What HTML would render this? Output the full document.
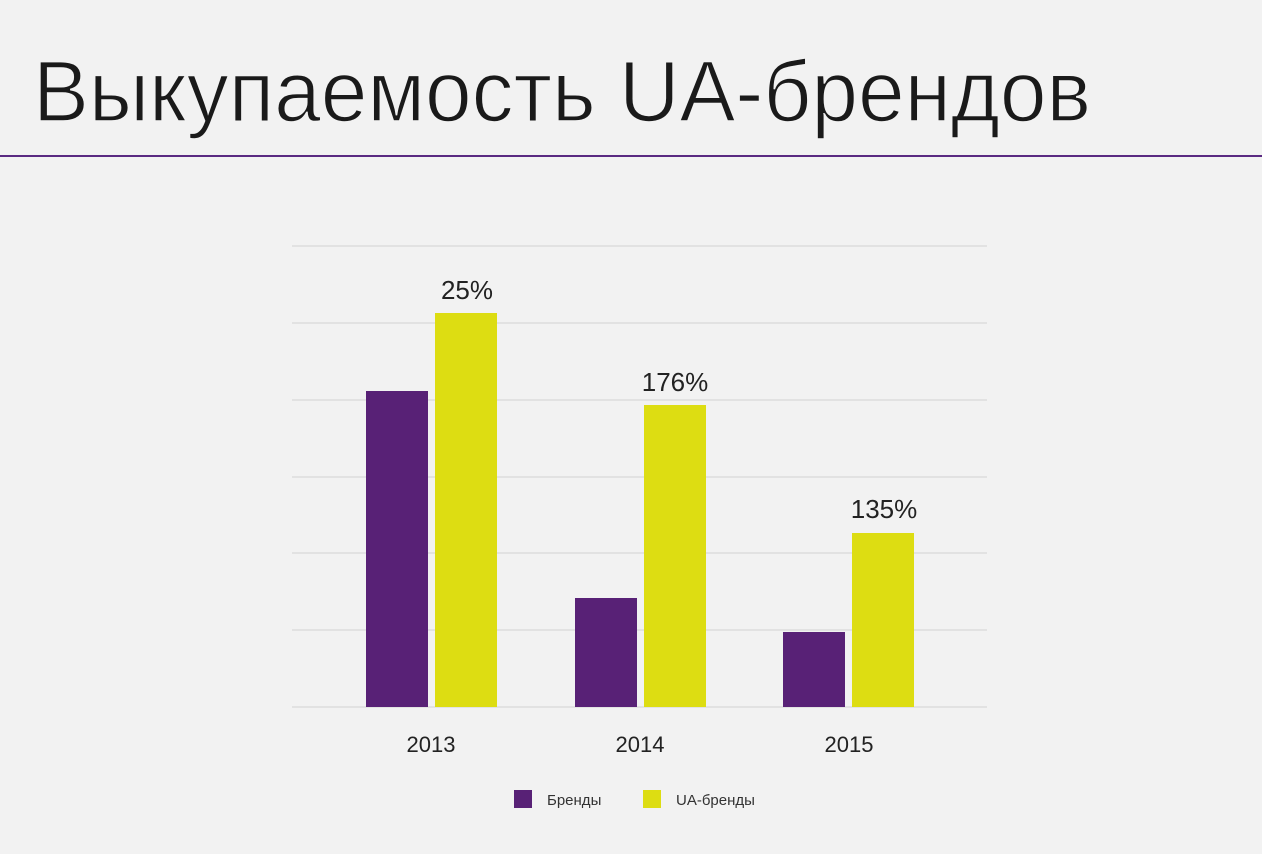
<!DOCTYPE html>
<html><head><meta charset="utf-8"><style>
html,body{margin:0;padding:0;background:#f2f2f2;}
svg{display:block}
</style></head><body>
<svg width="1262" height="854" xmlns="http://www.w3.org/2000/svg" font-family="Liberation Sans, DejaVu Sans, sans-serif">
<rect width="1262" height="854" fill="#f2f2f2"/>
<text x="33" y="121" font-size="86" fill="#1a1a1a" stroke="#f2f2f2" stroke-width="1.6" textLength="1058" lengthAdjust="spacingAndGlyphs">Выкупаемость UA-брендов</text>
<rect x="0" y="155" width="1262" height="2" fill="#5a2a82"/>
<g stroke="#e2e2e2" stroke-width="2">
<line x1="292" y1="246" x2="987" y2="246"/>
<line x1="292" y1="323" x2="987" y2="323"/>
<line x1="292" y1="400" x2="987" y2="400"/>
<line x1="292" y1="477" x2="987" y2="477"/>
<line x1="292" y1="553" x2="987" y2="553"/>
<line x1="292" y1="630" x2="987" y2="630"/>
<line x1="292" y1="707" x2="987" y2="707"/>
</g>
<g fill="#582176">
<rect x="366" y="391" width="62" height="316"/>
<rect x="575" y="598" width="62" height="109"/>
<rect x="783" y="632" width="62" height="75"/>
</g>
<g fill="#dddd12">
<rect x="435" y="313" width="62" height="394"/>
<rect x="644" y="405" width="62" height="302"/>
<rect x="852" y="533" width="62" height="174"/>
</g>
<g font-size="26" fill="#222" text-anchor="middle">
<text x="467" y="299">25%</text>
<text x="675" y="391">176%</text>
<text x="884" y="518">135%</text>
</g>
<g font-size="22" fill="#222" text-anchor="middle">
<text x="431" y="752">2013</text>
<text x="640" y="752">2014</text>
<text x="849" y="752">2015</text>
</g>
<rect x="514" y="790" width="18" height="18" fill="#582176"/>
<text x="547" y="805" font-size="15" fill="#333">Бренды</text>
<rect x="643" y="790" width="18" height="18" fill="#dddd12"/>
<text x="676" y="805" font-size="15" fill="#333">UA-бренды</text>
</svg>
</body></html>
